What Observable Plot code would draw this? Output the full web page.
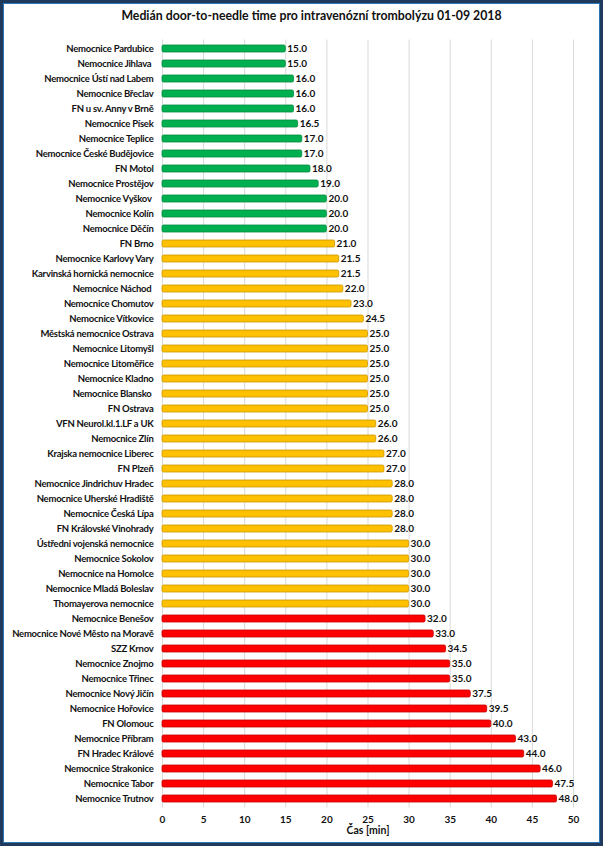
<!DOCTYPE html>
<html>
<head>
<meta charset="utf-8">
<script src="https://cdn.jsdelivr.net/npm/d3@7"></script>
<script src="https://cdn.jsdelivr.net/npm/@observablehq/plot@0.6"></script>
<style>
  html, body { margin: 0; padding: 0; background: #fff; }
  #wrap { position: relative; width: 603px; height: 846px; overflow: hidden; background: #fff;
          font-family: Lato, "Liberation Sans", sans-serif; }
  #frame { position: absolute; left: 0; top: 0; width: 603px; height: 846px; box-sizing: border-box;
           border: 3px solid #1f3a5c; box-shadow: inset 0 0 0 1px #2e75b6; pointer-events: none; }
  #title { position: absolute; left: 20px; top: 8px; width: 583px; text-align: center;
           font-size: 12.3px; font-weight: bold; color: #111; }
  #chart { position: absolute; left: 0; top: 32px; }
  #chart svg g[aria-label="y-axis tick label"] text { letter-spacing: -0.25px; }
</style>
</head>
<body>
<div id="wrap">
  <div id="title">Medián door-to-needle time pro intravenózní trombolýzu 01-09 2018</div>
  <div id="chart"></div>
  <div id="frame"></div>
</div>
<script>
const hospitals = [
  "Nemocnice Pardubice", "Nemocnice Jihlava\u00a0", "Nemocnice Ústí nad Labem", "Nemocnice Břeclav",
  "FN u sv. Anny v Brně", "Nemocnice Písek", "Nemocnice Teplice", "Nemocnice České Budějovice",
  "FN Motol", "Nemocnice Prostějov", "Nemocnice Vyškov\u00a0", "Nemocnice Kolín", "Nemocnice Děčín",
  "FN Brno", "Nemocnice Karlovy Vary", "Karvinská hornická nemocnice", "Nemocnice Náchod\u00a0",
  "Nemocnice Chomutov", "Nemocnice Vítkovice", "Městská nemocnice Ostrava", "Nemocnice Litomyšl",
  "Nemocnice Litoměřice", "Nemocnice Kladno", "Nemocnice Blansko\u00a0", "FN Ostrava",
  "VFN Neurol.kl.1.LF a UK", "Nemocnice Zlín", "Krajska nemocnice Liberec", "FN Plzeň",
  "Nemocnice Jindrichuv Hradec", "Nemocnice Uherské Hradiště", "Nemocnice Česká Lípa",
  "FN Královské Vinohrady", "Ústředni vojenská nemocnice", "Nemocnice Sokolov", "Nemocnice na Homolce",
  "Nemocnice Mladá Boleslav", "Thomayerova nemocnice", "Nemocnice Benešov",
  "Nemocnice Nové Město na Moravě", "SZZ Krnov", "Nemocnice Znojmo", "Nemocnice Třinec",
  "Nemocnice Nový Jičín", "Nemocnice Hořovice", "FN Olomouc", "Nemocnice Příbram",
  "FN Hradec Králové", "Nemocnice Strakonice", "Nemocnice Tabor", "Nemocnice Trutnov"
];
const medianMinutes = [
  15.0, 15.0, 16.0, 16.0, 16.0, 16.5, 17.0, 17.0, 18.0, 19.0, 20.0, 20.0, 20.0,
  21.0, 21.5, 21.5, 22.0, 23.0, 24.5, 25.0, 25.0, 25.0, 25.0, 25.0, 25.0, 26.0, 26.0,
  27.0, 27.0, 28.0, 28.0, 28.0, 28.0, 30.0, 30.0, 30.0, 30.0, 30.0,
  32.0, 33.0, 34.5, 35.0, 35.0, 37.5, 39.5, 40.0, 43.0, 44.0, 46.0, 47.5, 48.0
];
const groupNames = ["green", "yellow", "red"];
const groupSizes = [13, 25, 13];
const groupFill = {green: "#00b050", yellow: "#ffc000", red: "#ff0000"};
const groupStroke = {green: "#008a3e", yellow: "#c99700", red: "#c00000"};
const xTicks = [0, 5, 10, 15, 20, 25, 30, 35, 40, 45, 50];
const xLabel = "Čas [min]";

const groupOf = [];
groupNames.forEach((g, i) => { for (let k = 0; k < groupSizes[i]; k++) groupOf.push(g); });
const data = hospitals.map((h, i) => ({name: h, value: medianMinutes[i], group: groupOf[i]}));

const chart = Plot.plot({
  width: 603,
  height: 812,
  marginLeft: 162,
  marginRight: 30,
  marginTop: 7.5,
  marginBottom: 36.5,
  style: {fontFamily: 'Lato, "Liberation Sans", sans-serif', fontSize: "9.5px", fontWeight: "bold", color: "#111", background: "transparent"},
  x: {domain: [0, 50], ticks: xTicks, tickSize: 0, tickPadding: 8, label: null, grid: false},
  y: {domain: hospitals, padding: 0, tickSize: 0, tickPadding: 9, label: null},
  marks: [
    Plot.ruleX(xTicks, {stroke: "#d9d9d9", strokeWidth: 1, strokeOpacity: 1}),
    Plot.barX(data, {x: "value", y: "name", fill: d => groupFill[d.group], stroke: d => groupStroke[d.group],
      strokeWidth: 0.8, insetTop: 4, insetBottom: 4, rx: 1.5}),
    Plot.text(data, {x: "value", y: "name", text: d => d.value.toFixed(1), textAnchor: "start", dx: 1.5,
      fill: "#111", fontWeight: "bold", fontSize: 10}),
    Plot.axisX({ticks: xTicks, tickSize: 0, tickPadding: 8, label: null, fontWeight: "bold", fontSize: 10}),
    Plot.text([xLabel], {frameAnchor: "bottom", dy: 25.5, text: d => d, fontWeight: "bold", fontSize: 10.5, fill: "#111"})
  ]
});
document.getElementById("chart").appendChild(chart);
</script>
</body>
</html>
